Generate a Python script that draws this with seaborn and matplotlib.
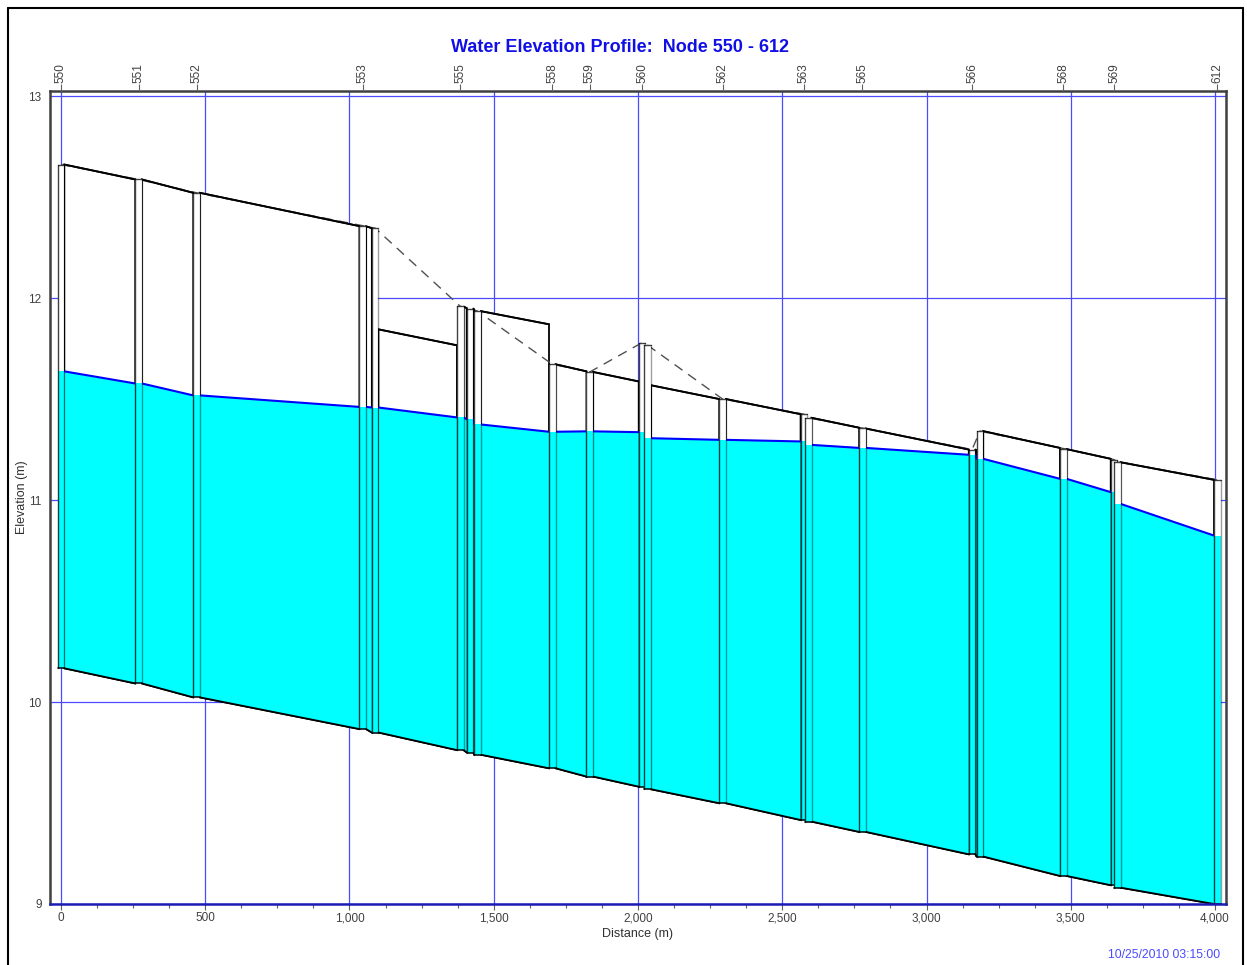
import numpy as np
import pandas as pd
import matplotlib
matplotlib.use("Agg")
import matplotlib.pyplot as plt
from matplotlib.patches import Polygon, Rectangle
from matplotlib.lines import Line2D
from matplotlib.ticker import FixedLocator, MultipleLocator, FuncFormatter
import seaborn as sns

# ---- profile data: nodes along the path 550 -> 612 ----
node_ids = ["550", "551", "552", "553", "554", "555", "556", "557", "558", "559", "560",
            "561", "562", "563", "564", "565", "566", "567", "568", "569", "570", "612"]
node_dist = [0, 269, 470, 1046, 1089, 1384, 1418, 1444, 1703, 1833, 2014,
             2034, 2293, 2575, 2590, 2778, 3158, 3185, 3474, 3650, 3661, 4008]
node_invert = [10.167, 10.092, 10.023, 9.866, 9.849, 9.762, 9.750, 9.739, 9.672, 9.631, 9.581,
               9.568, 9.499, 9.416, 9.408, 9.357, 9.246, 9.235, 9.139, 9.093, 9.081, 9.000]
node_rim = [12.661, 12.587, 12.521, 12.358, 12.346, 11.959, 11.948, 11.935, 11.672, 11.634, 11.779,
            11.766, 11.500, 11.425, 11.407, 11.356, 11.250, 11.341, 11.255, 11.200, 11.190, 11.100]
node_head = [11.637, 11.577, 11.518, 11.461, 11.458, 11.409, 11.400, 11.374, 11.338, 11.340, 11.336,
             11.306, 11.298, 11.290, 11.273, 11.258, 11.224, 11.204, 11.105, 11.039, 10.981, 10.824]

# crown elevation of each link at its upstream / downstream end
crown_up = [12.661, 12.587, 12.521, 12.355, 11.845, 11.957, 11.948, 11.935, 11.672, 11.634, 11.585,
            11.568, 11.500, 11.424, 11.407, 11.354, 11.250, 11.341, 11.252, 11.200, 11.187]
crown_dn = [12.587, 12.521, 12.356, 12.346, 11.766, 11.950, 11.940, 11.870, 11.637, 11.587, 11.580,
            11.500, 11.425, 11.412, 11.358, 11.250, 11.245, 11.258, 11.204, 11.190, 11.100]

labeled_nodes = ["550", "551", "552", "553", "555", "558", "559", "560", "562",
                 "563", "565", "566", "568", "569", "612"]

x_ticks = [0, 500, 1000, 1500, 2000, 2500, 3000, 3500, 4000]
y_ticks = [9, 10, 11, 12, 13]

title_text = "Water Elevation Profile:  Node 550 - 612"
time_stamp = "10/25/2010 03:15:00"

HALF_W = 11.5  # half width of a manhole box, metres

# ---- style ----
sns.set_style("white")
plt.rcParams["font.family"] = ["Liberation Sans", "DejaVu Sans"]

W, H = 1247, 965
AX_L, AX_R, AX_T, AX_B = 50, 1226, 91, 904
fig = plt.figure(figsize=(W / 100, H / 100), dpi=100)
fig.patch.set_facecolor("white")
ax = fig.add_axes([AX_L / W, 1 - AX_B / H, (AX_R - AX_L) / W, (AX_B - AX_T) / H])
ax.set_xlim(-38, 4038)
ax.set_ylim(9.0, 13.025)

GRID = "#4a4aff"
CYAN = "#00ffff"
ax.set_axisbelow(True)
ax.xaxis.set_major_locator(FixedLocator(x_ticks))
ax.xaxis.set_minor_locator(MultipleLocator(125))
ax.yaxis.set_major_locator(FixedLocator(y_ticks))
ax.yaxis.set_minor_locator(MultipleLocator(0.25))
ax.xaxis.set_major_formatter(FuncFormatter(lambda v, p: f"{int(round(v)):,}"))
ax.yaxis.set_major_formatter(FuncFormatter(lambda v, p: f"{int(round(v))}"))
ax.grid(True, which="major", color=GRID, lw=0.9)

# ---- links (pipes) ----
n = len(node_ids)
wse_rows = []
for i in range(n - 1):
    x0 = node_dist[i] + HALF_W
    x1 = node_dist[i + 1] - HALF_W
    if x1 <= x0:
        continue
    inv0, inv1 = node_invert[i], node_invert[i + 1]
    c0, c1 = crown_up[i], crown_dn[i]
    w0, w1 = node_head[i], node_head[i + 1]
    ax.add_patch(Polygon([(x0, inv0), (x1, inv1), (x1, c1), (x0, c0)], closed=True,
                         fc="white", ec="black", lw=1.3, zorder=2))
    ax.add_patch(Polygon([(x0, inv0), (x1, inv1), (x1, w1), (x0, w0)], closed=True,
                         fc=CYAN, ec="none", zorder=2.1))
    ax.plot([x0, x1], [c0, c1], color="black", lw=1.3, zorder=2.4)
    ax.plot([x0, x1], [inv0, inv1], color="black", lw=1.3, zorder=2.4)
    wse_rows.append({"link": i, "dist": x0, "wse": w0})
    wse_rows.append({"link": i, "dist": x1, "wse": w1})

wse_df = pd.DataFrame(wse_rows)
sns.lineplot(data=wse_df, x="dist", y="wse", units="link", estimator=None,
             color="#0000ff", lw=1.5, ax=ax, legend=False, zorder=2.3)

# ground line through node rims
ground_df = pd.DataFrame({"dist": node_dist, "rim": node_rim})
sns.lineplot(data=ground_df, x="dist", y="rim", estimator=None, sort=False,
             color="#505050", lw=1.0, ls=(0, (7, 5)), ax=ax, zorder=2.2)

# ---- nodes (manholes) ----
for i in range(n):
    xl = node_dist[i] - HALF_W
    xr = node_dist[i] + HALF_W
    inv, rim, head = node_invert[i], node_rim[i], node_head[i]
    z = 3 + i * 0.01
    ax.add_patch(Rectangle((xl, inv), xr - xl, rim - inv, fc="white", ec="none", zorder=z))
    ax.add_patch(Rectangle((xl, inv), xr - xl, min(head, rim) - inv, fc=CYAN, ec="none", zorder=z))
    ax.plot([xl, xl], [inv, rim], color="black", alpha=0.75, lw=1.0, zorder=z + 0.001)
    ax.plot([xr, xr], [inv, rim], color="black", alpha=0.38, lw=1.0, zorder=z + 0.001)
    ax.plot([xl, xr], [rim, rim], color="black", alpha=0.75, lw=1.0, zorder=z + 0.001)
    ax.plot([xl, xr], [inv, inv], color="black", alpha=0.9, lw=1.2, zorder=z + 0.001)

# ---- axes frame and ticks ----
for side in ["left", "top", "right"]:
    ax.spines[side].set_color("#404040")
    ax.spines[side].set_linewidth(1.8)
ax.spines["bottom"].set_color("#1c1cb4")
ax.spines["bottom"].set_linewidth(1.8)
for s in ax.spines.values():
    s.set_zorder(5)
ax.tick_params(axis="both", which="both", direction="out", color="#606060",
               labelcolor="#404040", labelsize=8.5, width=0.8)
ax.tick_params(axis="both", which="major", length=4, pad=2)
ax.tick_params(axis="both", which="minor", length=3)
ax.set_xlabel("Distance (m)", fontsize=9, color="#303030")
ax.set_ylabel("Elevation (m)", fontsize=9, color="#303030")
ax.xaxis.set_label_coords((638 - AX_L) / (AX_R - AX_L), -(928 - AX_B) / (AX_B - AX_T))
ax.yaxis.set_label_coords(-(AX_L - 28) / (AX_R - AX_L), 0.5)

# node names along the top
top = ax.twiny()
top.set_xlim(ax.get_xlim())
lab_pos = [node_dist[node_ids.index(k)] for k in labeled_nodes]
top.set_xticks(lab_pos)
top.set_xticklabels(labeled_nodes, rotation=90)
top.tick_params(axis="x", direction="out", length=5, color="#606060", width=0.8,
                labelcolor="#404040", labelsize=8.5, pad=1)
top.grid(False)
for s in top.spines.values():
    s.set_visible(False)

# ---- titles and frame ----
fig.text(620 / W, 1 - 48 / H, title_text, ha="center", va="center", fontsize=13,
         fontweight="bold", color="#1010e6")
fig.text(1220 / W, 1 - 955 / H, time_stamp, ha="right", va="center", fontsize=8.8,
         color="#4a4aff")
fig.add_artist(Line2D([7.5 / W, 7.5 / W], [0, 1 - 7.5 / H], transform=fig.transFigure, color="black", lw=1.5))
fig.add_artist(Line2D([7.5 / W, 1243 / W], [1 - 7.5 / H, 1 - 7.5 / H], transform=fig.transFigure, color="black", lw=1.5))
fig.add_artist(Line2D([1243 / W, 1243 / W], [0, 1 - 7.5 / H], transform=fig.transFigure, color="black", lw=1.5))

fig.savefig("out.png", dpi=100, facecolor="white")
